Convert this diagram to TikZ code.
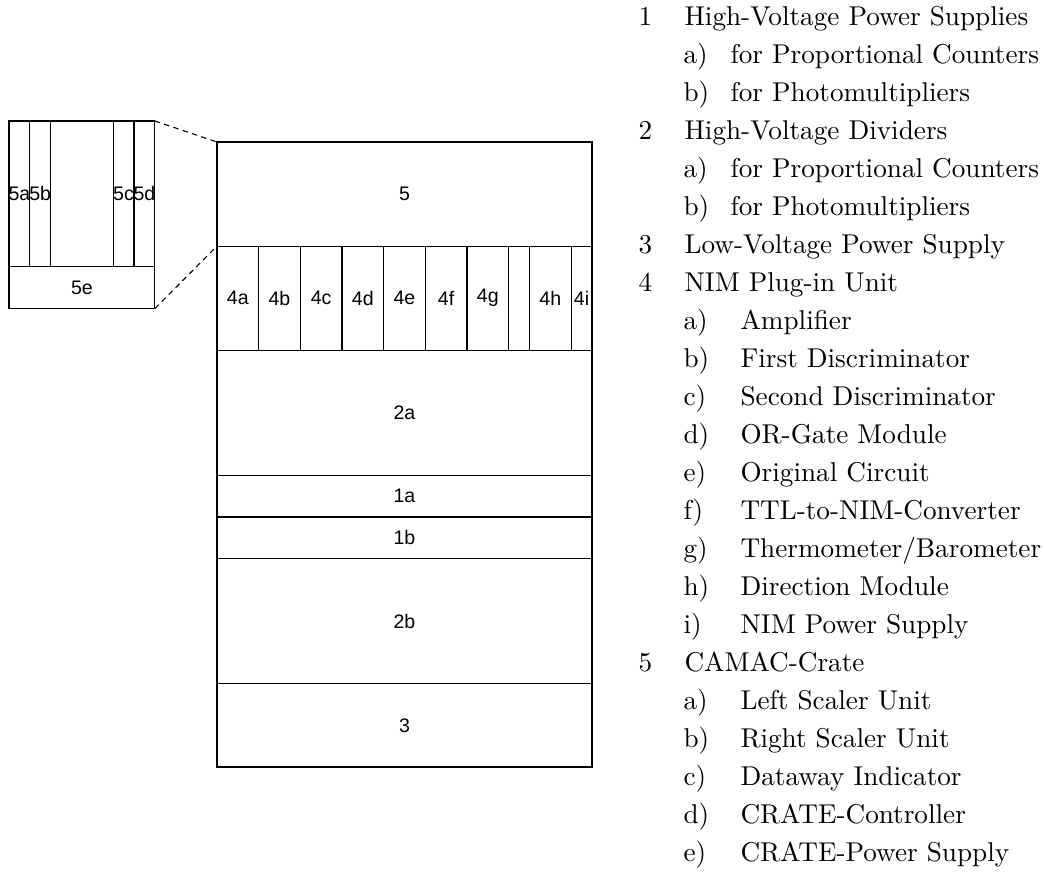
\documentclass[tikz,border=0pt]{standalone}
\usepackage{fontspec}
\usepackage{tikz}
\usetikzlibrary{positioning}
\newfontfamily\boxsans{Liberation Sans}
\newlength\cellu
\setlength\cellu{7.658pt}
\tikzset{
  cell/.style={rectangle, draw=black, line width=0.45pt, inner sep=0pt, outer sep=0pt,
               font=\boxsans\fontsize{7.2}{8.5}\selectfont},
  slot/.style={cell, inner xsep=-1pt},
  cw/.style={minimum width=#1*\cellu},
  ch/.style={minimum height=#1*\cellu},
  zoomline/.style={draw=black, line width=0.4pt, dash pattern=on 2pt off 1.6pt},
  legnum/.style={anchor=base west, inner sep=0pt, font=\fontsize{10}{12}\selectfont},
  legtxt/.style={legnum}
}

\begin{document}
\begin{tikzpicture}[x=0.3676pt, y=-0.3676pt, node distance=0pt]
  \useasboundingbox (0,0) rectangle (1044,877);
  % main rack
  \node[cell, cw=18, ch=5, anchor=north west] (c5) at (217,142) {5};
  \node[cell, cw=2, ch=5, anchor=north west] (c4a) at (c5.south west) {4a};
  \node[cell, cw=2, ch=5, right=of c4a] (c4b) {4b};
  \node[cell, cw=2, ch=5, right=of c4b] (c4c) {4c};
  \node[cell, cw=2, ch=5, right=of c4c] (c4d) {4d};
  \node[cell, cw=2, ch=5, right=of c4d] (c4e) {4e};
  \node[cell, cw=2, ch=5, right=of c4e] (c4f) {4f};
  \node[cell, cw=2, ch=5, right=of c4f] (c4g) {4g};
  \node[slot, cw=1, ch=5, right=of c4g] (c4x) {};
  \node[cell, cw=2, ch=5, right=of c4x] (c4h) {4h};
  \node[slot, cw=1, ch=5, right=of c4h] (c4i) {4i};
  \node[cell, cw=18, ch=6, anchor=north west] (c2a) at (c4a.south west) {2a};
  \node[cell, cw=18, ch=2, below=of c2a] (c1a) {1a};
  \node[cell, cw=18, ch=2, below=of c1a] (c1b) {1b};
  \node[cell, cw=18, ch=6, below=of c1b] (c2b) {2b};
  \node[cell, cw=18, ch=4, below=of c2b] (c3) {3};
  % CAMAC crate detail
  \node[slot, cw=1, ch=7, anchor=north west] (c5a) at (9,121) {5a};
  \node[slot, cw=1, ch=7, right=of c5a] (c5b) {5b};
  \node[cell, cw=3, ch=7, right=of c5b] (c5x) {};
  \node[slot, cw=1, ch=7, right=of c5x] (c5c) {5c};
  \node[slot, cw=1, ch=7, right=of c5c] (c5d) {5d};
  \node[cell, cw=7, ch=2, anchor=north west] (c5e) at (c5a.south west) {5e};
  \draw[zoomline] (c5d.north east) -- (c5.north west);
  \draw[zoomline] (c5e.south east) -- (c5.south west);
  % legend
  \foreach \num/\txt/\k in {1/High-Voltage Power Supplies/0, 2/High-Voltage Dividers/3,
      3/Low-Voltage Power Supply/6, 4/NIM Plug-in Unit/7, 5/CAMAC-Crate/17} {
    \node[legnum] (num\num) at (638,{25+38*\k}) {\num};
    \node[legtxt] (txt\num) at (684,{25+38*\k}) {\txt};
  }
  \foreach \g/\lab/\txt/\k in {1/a/for Proportional Counters/1, 1/b/for Photomultipliers/2,
      2/a/for Proportional Counters/4, 2/b/for Photomultipliers/5} {
    \node[legnum] (sub\g\lab) at (683,{25+38*\k}) {\lab)};
    \node[legtxt] (subtxt\g\lab) at (730,{25+38*\k}) {\txt};
  }
  \foreach \g/\lab/\txt/\k in {4/a/Amplifier/8, 4/b/First Discriminator/9,
      4/c/Second Discriminator/10, 4/d/OR-Gate Module/11, 4/e/Original Circuit/12,
      4/f/TTL-to-NIM-Converter/13, 4/g/{Thermometer/Barometer}/14,
      4/h/Direction Module/15, 4/i/NIM Power Supply/16,
      5/a/Left Scaler Unit/18, 5/b/Right Scaler Unit/19, 5/c/Dataway Indicator/20,
      5/d/CRATE-Controller/21, 5/e/CRATE-Power Supply/22} {
    \node[legnum] (sub\g\lab) at (683,{25+38*\k}) {\lab)};
    \node[legtxt] (subtxt\g\lab) at (740,{25+38*\k}) {\txt};
  }
\end{tikzpicture}
\end{document}
